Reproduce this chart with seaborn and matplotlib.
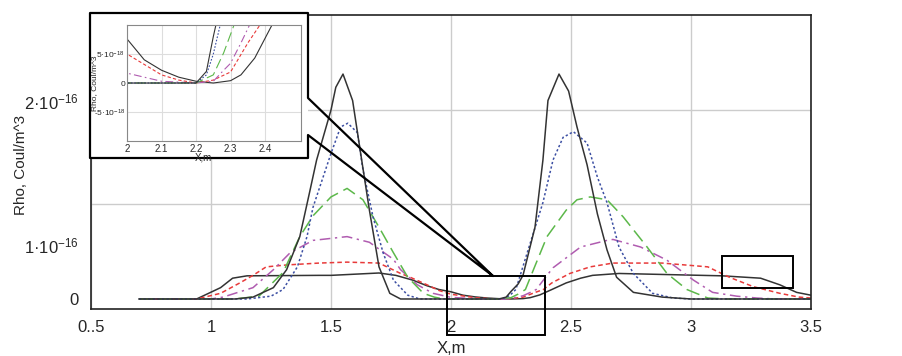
import seaborn as sns
import matplotlib.pyplot as plt
from matplotlib.lines import Line2D
from matplotlib.patches import Rectangle

# curve data, x in m, rho in units of 1e-16 Coul/m^3
x_sharp = [0.7, 1.10, 1.175, 1.26, 1.315, 1.37, 1.41, 1.44, 1.50, 1.52, 1.55, 1.59, 1.62, 1.66, 1.70, 1.745,
           1.79, 2.20, 2.23, 2.25, 2.28, 2.30, 2.35, 2.383, 2.404, 2.45, 2.49, 2.525, 2.567, 2.61, 2.65, 2.69,
           2.76, 2.88, 3.0, 3.5]
y_sharp = [0, 0, 0.02, 0.12, 0.31, 0.66, 1.12, 1.47, 2.0, 2.24, 2.38, 2.1, 1.6, 0.94, 0.34, 0.06,
           0, 0, 0.02, 0.08, 0.16, 0.25, 0.76, 1.47, 2.1, 2.38, 2.2, 1.82, 1.42, 0.9, 0.52, 0.23,
           0.07, 0.02, 0, 0]

x_blue = [0.7, 1.15, 1.25, 1.30, 1.36, 1.40, 1.425, 1.50, 1.54, 1.57, 1.61, 1.633, 1.675, 1.717, 1.76, 1.82,
          1.87, 2.20, 2.23, 2.25, 2.27, 2.33, 2.383, 2.425, 2.467, 2.51, 2.567, 2.61, 2.65, 2.70, 2.76, 2.84,
          2.925, 3.0, 3.5]
y_blue = [0, 0, 0.03, 0.1, 0.34, 0.66, 0.97, 1.54, 1.82, 1.86, 1.76, 1.37, 0.87, 0.49, 0.2, 0.04,
          0, 0, 0.014, 0.05, 0.1, 0.59, 1.02, 1.47, 1.71, 1.77, 1.65, 1.29, 1.02, 0.55, 0.27, 0.06,
          0.01, 0, 0]

x_green = [0.7, 1.1, 1.2, 1.3, 1.37, 1.425, 1.50, 1.567, 1.633, 1.70, 1.76, 1.82, 1.885, 1.93, 1.97, 2.20,
           2.25, 2.28, 2.31, 2.35, 2.40, 2.48, 2.525, 2.58, 2.65, 2.717, 2.817, 2.9, 2.983, 3.07, 3.15, 3.5]
y_green = [0, 0, 0.03, 0.28, 0.66, 0.88, 1.08, 1.17, 1.05, 0.76, 0.49, 0.23, 0.06, 0.02, 0, 0,
           0.014, 0.052, 0.1, 0.35, 0.66, 0.94, 1.05, 1.08, 1.05, 0.87, 0.55, 0.27, 0.1, 0.01, 0, 0]

x_magenta = [0.7, 1.0, 1.05, 1.175, 1.26, 1.33, 1.425, 1.567, 1.66, 1.76, 1.79, 1.86, 1.925, 2.0, 2.1, 2.2,
             2.25, 2.28, 2.30, 2.33, 2.355, 2.40, 2.425, 2.54, 2.65, 2.675, 2.79, 2.9, 3.01, 3.09, 3.19, 3.275,
             3.35, 3.5]
y_magenta = [0, 0, 0.02, 0.12, 0.31, 0.49, 0.62, 0.66, 0.6, 0.42, 0.31, 0.15, 0.06, 0.017, 0.003, 0,
             0.003, 0.022, 0.034, 0.069, 0.1, 0.25, 0.33, 0.55, 0.62, 0.63, 0.55, 0.41, 0.2, 0.07, 0.03, 0.01,
             0, 0]

x_red = [0.7, 0.94, 1.04, 1.12, 1.175, 1.23, 1.315, 1.45, 1.567, 1.70, 1.79, 1.83, 1.90, 1.95, 2.0, 2.1,
         2.15, 2.2, 2.25, 2.3, 2.35, 2.385, 2.42, 2.495, 2.58, 2.675, 2.88, 3.07, 3.16, 3.26, 3.37, 3.45, 3.5]
y_red = [0, 0, 0.06, 0.17, 0.25, 0.34, 0.36, 0.38, 0.39, 0.38, 0.27, 0.23, 0.15, 0.09, 0.05, 0.014,
         0.005, 0, 0.005, 0.019, 0.069, 0.1, 0.17, 0.27, 0.34, 0.38, 0.38, 0.34, 0.23, 0.13, 0.06, 0.02, 0.01]

x_broad = [0.7, 0.94, 1.04, 1.09, 1.15, 1.45, 1.50, 1.70, 1.77, 1.84, 1.90, 1.95, 2.0, 2.05, 2.1, 2.15,
           2.2, 2.25, 2.3, 2.33, 2.37, 2.42, 2.48, 2.54, 2.59, 2.70, 3.13, 3.29, 3.37, 3.44, 3.5]
y_broad = [0, 0, 0.12, 0.22, 0.245, 0.25, 0.25, 0.275, 0.25, 0.2, 0.14, 0.1, 0.076, 0.04, 0.022, 0.01,
           0.003, 0, 0.004, 0.014, 0.043, 0.1, 0.17, 0.22, 0.25, 0.27, 0.245, 0.22, 0.15, 0.07, 0.04]

curves = [
    (x_broad, y_broad, '#333333', None),
    (x_red, y_red, '#e83a3a', (3, 2)),
    (x_magenta, y_magenta, '#b05cb0', (7, 3, 1.5, 3)),
    (x_green, y_green, '#5cb84a', (9, 4)),
    (x_blue, y_blue, '#3c4fa3', (1.5, 1.5)),
    (x_sharp, y_sharp, '#333333', None),
]

main_xticks = [0.5, 1, 1.5, 2, 2.5, 3, 3.5]
main_xlabels = ['0..5', '1', '1.5', '2', '2.5', '3', '3.5']
main_yticks = [0, 0.571, 2.095]
main_ylabels = ['0', '1·10$^{-16}$', '2·10$^{-16}$']
inset_xticks = [2, 2.1, 2.2, 2.3, 2.4]
inset_xlabels = ['2', '2.1', '2.2', '2.3', '2.4']
inset_yticks = [-0.05, 0, 0.05]
inset_ylabels = ['-5·10$^{-18}$', '0', '5·10$^{-18}$']

sns.set_theme(style="white")
plt.rcParams['font.family'] = ['Liberation Sans', 'DejaVu Sans']
plt.rcParams['mathtext.fontset'] = 'custom'
plt.rcParams['mathtext.rm'] = 'Liberation Sans'
plt.rcParams['mathtext.it'] = 'Liberation Sans'

W, H = 903, 356
fig = plt.figure(figsize=(W / 100, H / 100), dpi=100)


def px(x, y):
    return x / W, 1 - y / H


def draw_curves(ax, lw):
    for xs, ys, col, dash in curves:
        sns.lineplot(x=xs, y=ys, ax=ax, color=col, linewidth=lw, estimator=None, sort=False)
        if dash is not None:
            ax.lines[-1].set_dashes(dash)


def style_axes(ax, spine_col, lw):
    for s in ax.spines.values():
        s.set_color(spine_col)
        s.set_linewidth(lw)
    ax.tick_params(length=0)
    ax.grid(False)


# main axes
ax = fig.add_axes([91 / W, 47 / H, 720 / W, 294 / H])
draw_curves(ax, 1.1)
ax.set_xlim(0.5, 3.5)
ax.set_ylim(-0.106, 3.005)
ax.set_xticks(main_xticks)
ax.set_xticklabels(main_xlabels, fontsize=12)
ax.set_yticks(main_yticks)
ax.set_yticklabels(main_ylabels, fontsize=12)
ax.set_yticks([0, 1, 2], minor=True)
style_axes(ax, '#222222', 1.2)
ax.tick_params(which='minor', length=0)
ax.tick_params(axis='x', pad=8)
ax.tick_params(axis='y', pad=9)
ax.xaxis.grid(True, which='major', color='#cccccc', linewidth=1)
ax.yaxis.grid(True, which='minor', color='#cccccc', linewidth=1)
ax.set_axisbelow(True)
ax.set_xlabel('X,m', fontsize=12, labelpad=4)
ax.set_ylabel('Rho, Coul/m^3', fontsize=11)
ax.yaxis.set_label_coords(-0.088, 0.49)

# zoom boxes on main plot
ax.add_patch(Rectangle((1.983, -0.38), 2.39 - 1.983, 0.243 + 0.38, fill=False,
                       edgecolor='black', linewidth=1.4, clip_on=False, zorder=5))
ax.add_patch(Rectangle((3.129, 0.116), 3.425 - 3.129, 0.455 - 0.116, fill=False,
                       edgecolor='black', linewidth=1.4, clip_on=False, zorder=5))

# inset frame with callout lines
fig.add_artist(Rectangle(px(90, 158), 218 / W, 145 / H, transform=fig.transFigure,
                         facecolor='white', edgecolor='none', zorder=1))
frame = [(493, 276), (308, 98), (308, 13), (90, 13), (90, 158), (308, 158), (308, 135), (493, 276)]
fx = [px(a, b)[0] for a, b in frame]
fy = [px(a, b)[1] for a, b in frame]
fig.add_artist(Line2D(fx, fy, transform=fig.transFigure, color='black', linewidth=1.6, zorder=2))

# inset axes
ax_in = fig.add_axes([127 / W, (H - 141) / H, 174 / W, 116 / H])
ax_in.set_zorder(3)
draw_curves(ax_in, 0.8)
ax_in.set_xlim(2.0, 2.504)
ax_in.set_ylim(-0.1, 0.1)
ax_in.set_xticks(inset_xticks)
ax_in.set_xticklabels(inset_xlabels, fontsize=7)
ax_in.set_yticks(inset_yticks)
ax_in.set_yticklabels(inset_ylabels, fontsize=6)
style_axes(ax_in, '#888888', 0.8)
ax_in.tick_params(axis='x', pad=2)
ax_in.tick_params(axis='y', pad=1.5)
ax_in.grid(True, color='#dddddd', linewidth=0.8)
ax_in.set_axisbelow(True)
ax_in.set_xlabel('X,m', fontsize=7)
ax_in.xaxis.set_label_coords(0.44, -0.1)
ax_in.set_ylabel('Rho, Coul/m^3', fontsize=6)
ax_in.yaxis.set_label_coords(-0.168, 0.5)

fig.savefig('out.png', dpi=100)
